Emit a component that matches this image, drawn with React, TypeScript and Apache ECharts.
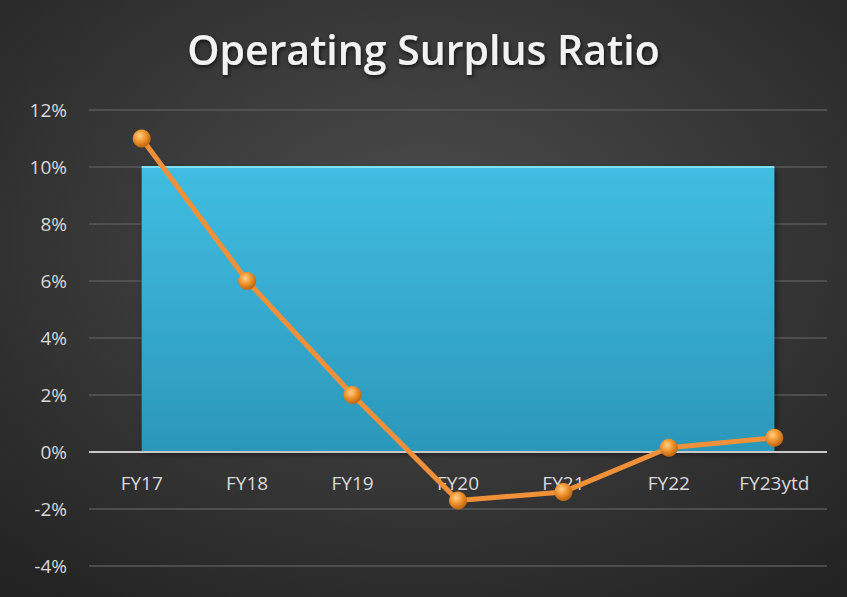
import React, { useEffect, useRef } from "react";
import * as echarts from "echarts";

const categories = ["FY17", "FY18", "FY19", "FY20", "FY21", "FY22", "FY23ytd"];
const ratioValues = [11, 6, 2, -1.7, -1.4, 0.15, 0.5];
const targetValues = [10, 10, 10, 10, 10, 10, 10];
const yTicks = { min: -4, max: 12, interval: 2 };

export default function App() {
  const ref = useRef<HTMLDivElement>(null);
  useEffect(() => {
    document.body.style.margin = "0";
    const chart = echarts.init(ref.current!, null, { renderer: "svg" });
    chart.setOption({
      animation: false,
      backgroundColor: {
        type: "radial",
        x: 0.5,
        y: 0.4,
        r: 0.75,
        colorStops: [
          { offset: 0, color: "#4d4d4d" },
          { offset: 1, color: "#232323" },
        ],
      },
      title: {
        text: "Operating Surplus Ratio",
        left: "center",
        top: 23,
        textStyle: {
          color: "#f2f2f2",
          fontSize: 41,
          fontWeight: 600,
          fontFamily: "Open Sans",
          textShadowColor: "rgba(0,0,0,0.7)",
          textShadowBlur: 4,
          textShadowOffsetX: 1,
          textShadowOffsetY: 2,
        },
      },
      grid: { left: 89, right: 20, top: 110, bottom: 31, containLabel: false },
      xAxis: {
        type: "category",
        data: categories,
        boundaryGap: true,
        axisLine: { show: false, onZero: false },
        axisTick: { show: false },
        axisLabel: { color: "#d9d9d9", fontSize: 19, fontFamily: "Open Sans", margin: -93 },
        z: 5,
      },
      yAxis: {
        type: "value",
        min: yTicks.min,
        max: yTicks.max,
        interval: yTicks.interval,
        axisLine: { show: false },
        axisTick: { show: false },
        axisLabel: {
          color: "#d9d9d9",
          fontSize: 19,
          fontFamily: "Open Sans",
          margin: 22,
          formatter: (v: number) => `${v}%`,
        },
        splitLine: { lineStyle: { color: "#595959", width: 1.5 } },
      },
      series: [
        {
          name: "Target",
          type: "line",
          data: targetValues,
          symbol: "none",
          lineStyle: { width: 2, color: "#7fe0f7" },
          areaStyle: {
            opacity: 1,
            color: {
              type: "linear",
              x: 0,
              y: 0,
              x2: 0,
              y2: 1,
              colorStops: [
                { offset: 0, color: "#40bde2" },
                { offset: 1, color: "#2b97b9" },
              ],
            },
            shadowColor: "rgba(0,0,0,0.5)",
            shadowBlur: 6,
            shadowOffsetX: 2,
            shadowOffsetY: 2,
          },
          markLine: {
            silent: true,
            symbol: "none",
            label: { show: false },
            lineStyle: { color: "#c8c8c8", width: 2, type: "solid" },
            data: [{ yAxis: 0 }],
          },
          z: 1,
        },
        {
          name: "Operating Surplus Ratio",
          type: "line",
          data: ratioValues,
          symbol: "circle",
          symbolSize: 18,
          lineStyle: { width: 5, color: "#f0913a" },
          itemStyle: {
            color: {
              type: "radial",
              x: 0.4,
              y: 0.35,
              r: 0.6,
              colorStops: [
                { offset: 0, color: "#ffd08a" },
                { offset: 0.5, color: "#f39a35" },
                { offset: 1, color: "#c46a12" },
              ],
            },
            borderWidth: 0,
          },
          z: 10,
        },
      ],
    });
    return () => chart.dispose();
  }, []);
  return <div ref={ref} style={{ width: 847, height: 597 }} />;
}
